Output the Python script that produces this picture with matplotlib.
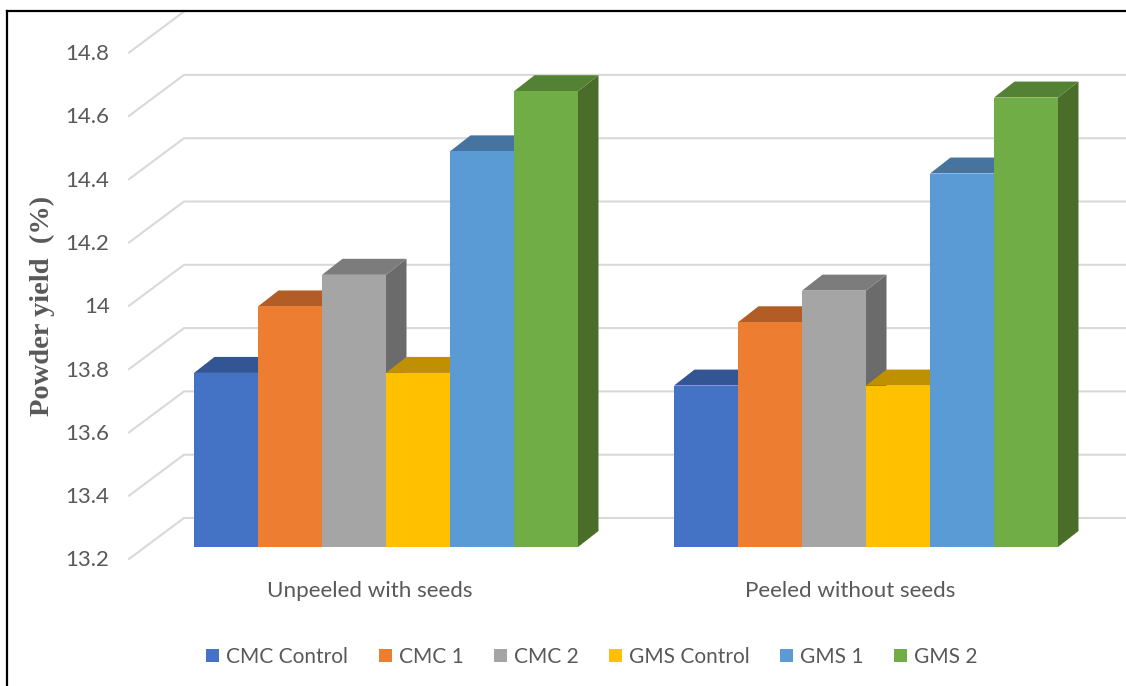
import matplotlib
matplotlib.use("Agg")
import matplotlib.pyplot as plt
from matplotlib.patches import Polygon, Patch

# ── Data ───────────────────────────────────────────────────────────────
groups = ["Unpeeled with seeds", "Peeled without seeds"]
series = ["CMC Control", "CMC 1", "CMC 2", "GMS Control", "GMS 1", "GMS 2"]
unpeeled = [13.75, 13.96, 14.06, 13.75, 14.45, 14.64]
peeled = [13.71, 13.91, 14.01, 13.71, 14.38, 14.62]
yticks = [13.2, 13.4, 13.6, 13.8, 14.0, 14.2, 14.4, 14.6, 14.8]
ytick_labels = ["13.2", "13.4", "13.6", "13.8", "14", "14.2", "14.4", "14.6", "14.8"]

# ── Colours (front, top, side) ─────────────────────────────────────────
front = ["#4472c4", "#ed7d31", "#a5a5a5", "#ffc000", "#5b9bd5", "#70ad47"]
top = ["#335593", "#b25d25", "#7c7c7c", "#bf9000", "#44749f", "#548235"]
side = ["#2a4a80", "#9a4f1f", "#6b6b6b", "#a67c00", "#3a6690", "#4a6e2a"]
TEXT = "#595959"
GRID = "#d9d9d9"

plt.rcParams["font.family"] = ["Lato", "DejaVu Sans"]

W, H = 1126, 686
PX_PER_BAR = 64.0      # one bar width
PX_PER_UNIT = 316.5    # one % of yield
X0, Y0 = 194.0, 547.0  # front-left foot of the first bar

fig = plt.figure(figsize=(W / 100, H / 100), dpi=100)
ax = fig.add_axes([0, 0, 1, 1])
ax.set_xlim(-X0 / PX_PER_BAR, (W - X0) / PX_PER_BAR)
ax.set_ylim(13.2 - (H - Y0) / PX_PER_UNIT, 13.2 + Y0 / PX_PER_UNIT)
ax.axis("off")


# ── Oblique projection: depth 1 = the full floor depth ─────────────────
DEPTH_X = 55.0 / PX_PER_BAR
DEPTH_Y = 41.0 / PX_PER_UNIT
BAR_FRONT = 12.0 / 41.0   # bars stand this far back from the floor edge
BAR_DX = 20.5 / PX_PER_BAR
BAR_DY = 16.0 / PX_PER_UNIT


def bar3d(x, value, i):
    base = 13.2
    ax.add_patch(Polygon([(x + 1, base), (x + 1 + BAR_DX, base + BAR_DY), (x + 1 + BAR_DX, value + BAR_DY), (x + 1, value)],
                         closed=True, fc=side[i], ec="none", zorder=3))
    ax.add_patch(Polygon([(x, value), (x + BAR_DX, value + BAR_DY), (x + 1 + BAR_DX, value + BAR_DY), (x + 1, value)],
                         closed=True, fc=top[i], ec="none", zorder=3))
    ax.add_patch(Polygon([(x, base), (x, value), (x + 1, value), (x + 1, base)],
                         closed=True, fc=front[i], ec="none", zorder=3))


# ── Grid on floor and back wall ────────────────────────────────────────
wall_x = -X0 / PX_PER_BAR + 184.0 / PX_PER_BAR
front_x = -X0 / PX_PER_BAR + 129.0 / PX_PER_BAR
right_x = (W - X0) / PX_PER_BAR
front_shift = BAR_FRONT * DEPTH_Y
for v in yticks:
    back_y = v - front_shift + DEPTH_Y
    # the top wall line runs under the frame, only its diagonal shows
    xs = [front_x, wall_x] if v == yticks[-1] else [front_x, wall_x, right_x]
    ys = [v - front_shift, back_y] if v == yticks[-1] else [v - front_shift, back_y, back_y]
    ax.plot(xs, ys, color=GRID, lw=1.5, solid_joinstyle="miter", zorder=1)

# ── Bars ───────────────────────────────────────────────────────────────
group_x = [0.0, 7.5]
for gx, values in zip(group_x, [unpeeled, peeled]):
    for i, v in enumerate(values):
        bar3d(gx + i, v, i)

# ── Text ───────────────────────────────────────────────────────────────
for v, label in zip(yticks, ytick_labels):
    ax.text(-X0 / PX_PER_BAR + 109.5 / PX_PER_BAR, v - front_shift - 1.5 / PX_PER_UNIT, label,
            ha="right", va="center", fontsize=16, color=TEXT)

for gx, label in zip(group_x, groups):
    ax.text(gx + 2.75, 13.2 - 44.0 / PX_PER_UNIT, label, ha="center", va="center",
            fontsize=16.1, color=TEXT)

fig.text(42 / W, 1 - 306 / H, "Powder yield  (%)", rotation=90, ha="center", va="center",
         fontsize=20.5, fontweight="bold", family="Liberation Serif", color=TEXT)

handles = [Patch(fc=c, ec="none", label=s) for c, s in zip(front, series)]
fig.legend(handles=handles, ncol=6, loc="center", bbox_to_anchor=(592 / W, 1 - 657 / H), frameon=False,
           fontsize=15, labelcolor=TEXT, handlelength=0.62, handleheight=0.62, handletextpad=0.35,
           columnspacing=1.45)

# ── Outer frame: left and top rules only ───────────────────────────────
fig.add_artist(plt.Line2D([7 / W, 7 / W], [0, 1 - 10.5 / H], color="black", lw=1.6))
fig.add_artist(plt.Line2D([7 / W, 1], [1 - 10.5 / H, 1 - 10.5 / H], color="black", lw=1.6))

fig.savefig("out.png", dpi=100)
